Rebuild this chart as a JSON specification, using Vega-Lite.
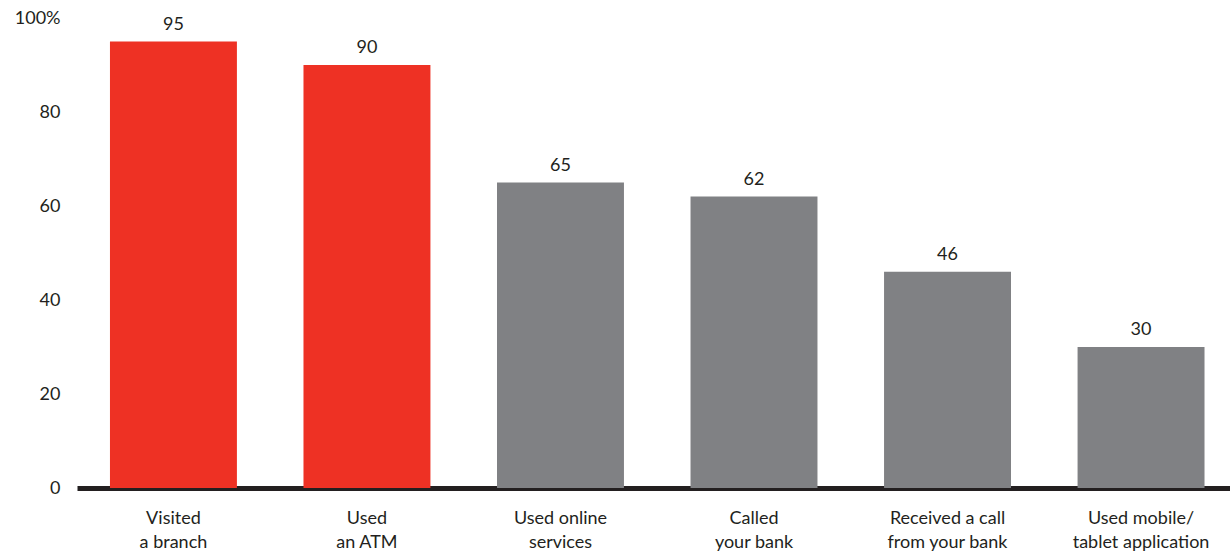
{
  "$schema": "https://vega.github.io/schema/vega-lite/v6.json",
  "autosize": {"type": "none"},
  "width": 1153,
  "height": 470,
  "padding": {"left": 77, "top": 18, "right": 0, "bottom": 67},
  "background": "white",
  "config": {
    "view": {"stroke": null},
    "font": "Lato",
    "text": {"font": "Lato"}
  },
  "data": {
    "values": [
      {"category": "Visited|a branch", "value": 95, "group": "red"},
      {"category": "Used|an ATM", "value": 90, "group": "red"},
      {"category": "Used online|services", "value": 65, "group": "gray"},
      {"category": "Called|your bank", "value": 62, "group": "gray"},
      {"category": "Received a call|from your bank", "value": 46, "group": "gray"},
      {"category": "Used mobile/|tablet application", "value": 30, "group": "gray"}
    ]
  },
  "encoding": {
    "x": {
      "field": "category",
      "type": "nominal",
      "sort": null,
      "scale": {"paddingInner": 0.344, "paddingOuter": 0.151, "align": 0.564},
      "axis": {
        "title": null,
        "labelAngle": 0,
        "labelExpr": "split(datum.label, '|')",
        "labelFontSize": 18,
        "labelFontWeight": 400,
        "labelLineHeight": 24,
        "labelColor": "#231f20",
        "labelBaseline": "top",
        "labelPadding": 21,
        "ticks": false,
        "domainColor": "#231f20",
        "domainWidth": 5,
        "grid": false
      }
    },
    "y": {
      "field": "value",
      "type": "quantitative",
      "scale": {"domain": [0, 100], "nice": false},
      "axis": {
        "title": null,
        "values": [0, 20, 40, 60, 80, 100],
        "labelExpr": "datum.value == 100 ? '100%' : datum.label",
        "labelFontSize": 18,
        "labelFontWeight": 400,
        "labelColor": "#231f20",
        "labelPadding": 17,
        "ticks": false,
        "domain": false,
        "grid": false
      }
    }
  },
  "layer": [
    {
      "mark": {"type": "bar"},
      "encoding": {
        "color": {
          "field": "group",
          "type": "nominal",
          "scale": {"domain": ["red", "gray"], "range": ["#ee3124", "#808184"]},
          "legend": null
        }
      }
    },
    {
      "mark": {"type": "text", "baseline": "alphabetic", "dy": -12, "fontSize": 18, "fontWeight": 400, "color": "#231f20"},
      "encoding": {"text": {"field": "value", "type": "quantitative"}}
    }
  ]
}
